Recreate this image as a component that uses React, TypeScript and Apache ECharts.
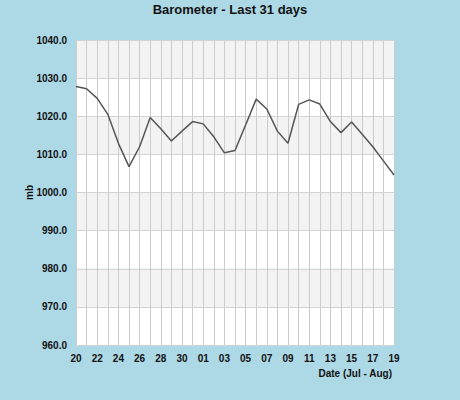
import React, { useEffect, useRef } from "react";
import * as echarts from "echarts";

const days: string[] = [
  "20", "21", "22", "23", "24", "25", "26", "27", "28", "29", "30", "31",
  "01", "02", "03", "04", "05", "06", "07", "08", "09", "10", "11", "12",
  "13", "14", "15", "16", "17", "18", "19",
];
const pressure: number[] = [
  1027.8, 1027.2, 1024.7, 1020.5, 1012.9, 1006.8, 1012.0, 1019.7, 1016.7, 1013.5,
  1016.1, 1018.6, 1018.0, 1014.6, 1010.4, 1011.0, 1017.7, 1024.5, 1021.9, 1016.1,
  1012.9, 1023.1, 1024.3, 1023.2, 1018.6, 1015.7, 1018.5, 1015.3, 1012.0, 1008.3,
  1004.6,
];
const yMin = 960;
const yMax = 1040;
const yStep = 10;

export default function App() {
  const ref = useRef<HTMLDivElement>(null);
  useEffect(() => {
    if (!ref.current) return;
    const chart = echarts.init(ref.current, undefined, { renderer: "svg" });
    const font = "Liberation Sans, Arial, sans-serif";
    chart.setOption({
      animation: false,
      backgroundColor: "#add8e6",
      title: {
        text: "Barometer - Last 31 days",
        left: "center",
        top: -2,
        textStyle: { fontFamily: font, fontSize: 13, fontWeight: "bold", color: "#111" },
      },
      grid: { left: 76, top: 40, width: 318, height: 305 },
      xAxis: {
        type: "category",
        data: days,
        boundaryGap: false,
        name: "Date (Jul - Aug)",
        nameLocation: "end",
        nameGap: 0,
        nameTextStyle: {
          fontFamily: font, fontSize: 10, fontWeight: "bold", color: "#111",
          align: "right", verticalAlign: "top", padding: [23, 2, 0, 0],
        },
        axisLine: { show: false },
        axisTick: { show: false },
        axisLabel: {
          interval: 1, fontFamily: font, fontSize: 10, fontWeight: "bold", color: "#111", margin: 8,
        },
        splitLine: { show: true, interval: 0, lineStyle: { color: "#cccccc", width: 1 } },
      },
      yAxis: {
        type: "value",
        min: yMin,
        max: yMax,
        interval: yStep,
        name: "mb",
        nameLocation: "middle",
        nameGap: 42,
        nameRotate: 90,
        nameMoveOverlap: false,
        nameTextStyle: { fontFamily: font, fontSize: 10, fontWeight: "bold", color: "#111" },
        axisLine: { show: false },
        axisTick: { show: false },
        axisLabel: {
          formatter: (v: number) => v.toFixed(1),
          fontFamily: font, fontSize: 10, fontWeight: "bold", color: "#111", margin: 9,
          verticalAlign: "middle", padding: [0, 0, 2, 0],
        },
        splitLine: { show: true, lineStyle: { color: "#d4d4d4", width: 1 } },
        splitArea: { show: true, areaStyle: { color: ["#ffffff", "#f3f3f3"] } },
      },
      series: [
        {
          type: "line",
          data: pressure,
          symbol: "none",
          lineStyle: { color: "#555555", width: 1.5 },
        },
      ],
    });
    return () => chart.dispose();
  }, []);
  return <div ref={ref} style={{ width: 460, height: 400, position: "absolute", left: 0, top: 0 }} />;
}
